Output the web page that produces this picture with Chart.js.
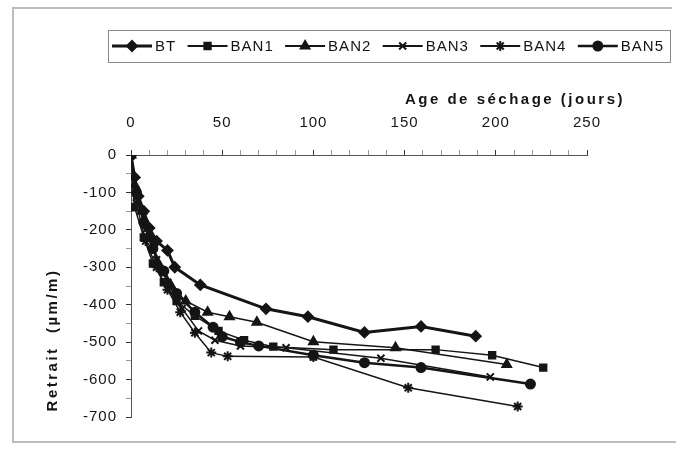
<!DOCTYPE html>
<html>
<head>
<meta charset="utf-8">
<script src="https://cdn.jsdelivr.net/npm/chart.js@4.4.1/dist/chart.umd.min.js"></script>
<style>
  html, body { margin: 0; padding: 0; background: #fff; }
  #wrap { width: 685px; height: 459px; }
</style>
</head>
<body>
<div id="wrap"><canvas id="chart" width="685" height="459"></canvas></div>
<script>
'use strict';

// ─── Data ────────────────────────────────────────────────────
const seriesNames = ['BT', 'BAN1', 'BAN2', 'BAN3', 'BAN4', 'BAN5'];

const btDays     = [0, 2, 4, 7, 10, 14, 20, 24, 38, 74, 97, 128, 159, 189];
const btValues   = [0, -60, -110, -150, -195, -230, -255, -300, -347, -411, -432, -474, -458, -484];

const ban1Days   = [0, 2, 7, 12, 18, 25, 35, 48, 62, 78, 111, 167, 198, 226];
const ban1Values = [0, -140, -220, -290, -340, -390, -430, -470, -495, -512, -520, -520, -535, -568];

const ban2Days   = [0, 2, 6, 10, 15, 22, 30, 42, 54, 69, 100, 145, 206];
const ban2Values = [0, -80, -150, -220, -290, -350, -390, -420, -432, -447, -499, -515, -560];

const ban3Days   = [0, 3, 8, 14, 20, 28, 37, 46, 60, 85, 137, 197];
const ban3Values = [0, -110, -200, -280, -340, -410, -470, -495, -510, -515, -543, -593];

const ban4Days   = [0, 3, 8, 14, 20, 27, 35, 44, 53, 100, 152, 212];
const ban4Values = [0, -130, -230, -300, -360, -420, -475, -528, -538, -540, -622, -672];

const ban5Days   = [0, 3, 7, 12, 18, 25, 35, 45, 50, 60, 70, 100, 128, 159, 219];
const ban5Values = [0, -100, -180, -250, -310, -370, -420, -460, -485, -500, -510, -535, -555, -568, -612];

const xTicks = [0, 50, 100, 150, 200, 250];
const yTicks = [0, -100, -200, -300, -400, -500, -600, -700];

const xTitle = 'Age de séchage (jours)';
const yTitle = 'Retrait  (µm/m)';

// ─── Helpers ──────────────────────────────────────────────────
const pair = (xs, ys) => xs.map((x, i) => ({ x, y: ys[i] }));

const INK = '#151515';
const FONT = '"Liberation Sans", Arial, sans-serif';

const styles = [
  { pointStyle: 'rectRot',  radius: 5,   width: 3   },
  { pointStyle: 'rect',     radius: 4.5, width: 1.5 },
  { pointStyle: 'triangle', radius: 5,   width: 1.5 },
  { pointStyle: 'crossRot', radius: 5,   width: 1.5 },
  { pointStyle: 'star',     radius: 5,   width: 1.5 },
  { pointStyle: 'circle',   radius: 4.5, width: 2.5 },
];

const allData = [
  pair(btDays, btValues),
  pair(ban1Days, ban1Values),
  pair(ban2Days, ban2Values),
  pair(ban3Days, ban3Values),
  pair(ban4Days, ban4Values),
  pair(ban5Days, ban5Values),
];

const datasets = seriesNames.map((name, i) => ({
  label: name,
  data: allData[i],
  borderColor: INK,
  backgroundColor: INK,
  borderWidth: styles[i].width,
  pointStyle: styles[i].pointStyle,
  pointRadius: styles[i].radius,
  pointBorderWidth: 2,
  pointBorderColor: INK,
  pointBackgroundColor: INK,
  tension: 0,
  fill: false,
}));

// ─── Frame, titles and a line-with-marker legend ─────────────
const decorPlugin = {
  id: 'decor',
  beforeDraw(chart) {
    const c = chart.ctx;
    c.letterSpacing = '1px';
    c.save();
    c.strokeStyle = '#bdbdbd';
    c.lineWidth = 2;
    c.beginPath();
    c.moveTo(672, 8); c.lineTo(13, 8); c.lineTo(13, 442); c.lineTo(676, 442);
    c.stroke();
    c.restore();
  },
  afterDraw(chart) {
    const c = chart.ctx;
    const { x } = chart.scales;
    c.save();
    c.fillStyle = INK;

    // x title, right side above the tick labels
    c.font = 'bold 15px ' + FONT;
    c.letterSpacing = '2.5px';
    c.textAlign = 'right';
    c.textBaseline = 'middle';
    c.fillText(xTitle, x.right + 38, 100);

    // y title, rotated
    c.translate(53, 340);
    c.rotate(-Math.PI / 2);
    c.textAlign = 'center';
    c.fillText(yTitle, 0, 0);
    c.restore();

    // legend
    c.save();
    const boxL = 108, boxT = 30, boxR = 670, boxB = 62;
    c.strokeStyle = '#8a8a8a';
    c.lineWidth = 1;
    c.strokeRect(boxL + 0.5, boxT + 0.5, boxR - boxL, boxB - boxT);
    c.font = '15px ' + FONT;
    c.letterSpacing = '1px';
    c.textBaseline = 'middle';
    c.textAlign = 'left';
    const lineLen = 40, gapText = 3;
    const textW = seriesNames.map(n => c.measureText(n).width);
    const used = seriesNames.length * (lineLen + gapText) + textW.reduce((a, b) => a + b, 0);
    const gap = (boxR - boxL - 10 - used) / (seriesNames.length - 1);
    let px = boxL + 4;
    const cy = (boxT + boxB) / 2;
    datasets.forEach((ds, i) => {
      c.strokeStyle = INK;
      c.fillStyle = INK;
      c.lineWidth = Math.max(2, ds.borderWidth);
      c.beginPath();
      c.moveTo(px, cy); c.lineTo(px + lineLen, cy);
      c.stroke();
      c.lineWidth = 2;
      Chart.helpers.drawPoint(c, {
        pointStyle: ds.pointStyle, radius: ds.pointRadius, borderWidth: 2, rotation: 0,
      }, px + lineLen / 2, cy);
      c.fillStyle = INK;
      c.fillText(ds.label, px + lineLen + gapText, cy + 1);
      px += lineLen + gapText + textW[i] + gap;
    });
    c.restore();
  },
};

new Chart(document.getElementById('chart').getContext('2d'), {
  type: 'line',
  data: { datasets },
  options: {
    responsive: false,
    animation: false,
    layout: { padding: { left: 0, right: 98, top: 0, bottom: 42 } },
    plugins: { legend: { display: false }, tooltip: { enabled: false } },
    scales: {
      x: {
        type: 'linear',
        position: 'top',
        min: xTicks[0],
        max: xTicks[xTicks.length - 1],
        afterFit: s => { s.height = 155; },
        afterBuildTicks: s => {
          const t = [];
          for (let v = xTicks[0]; v <= xTicks[xTicks.length - 1]; v += 10) t.push({ value: v });
          s.ticks = t;
        },
        ticks: {
          autoSkip: false,
          maxRotation: 0,
          padding: 18,
          color: INK,
          font: { family: FONT, size: 15 },
          callback: v => (xTicks.includes(v) ? String(v) : ''),
        },
        grid: {
          drawOnChartArea: false,
          drawTicks: true,
          tickLength: 5,
          tickColor: ctx => (ctx.tick && xTicks.includes(ctx.tick.value) ? '#333' : '#999'),
        },
        border: { display: true, color: '#555', width: 1 },
      },
      y: {
        type: 'linear',
        min: yTicks[yTicks.length - 1],
        max: yTicks[0],
        afterFit: s => { s.width = 131; },
        afterBuildTicks: s => {
          const t = [];
          for (let v = yTicks[yTicks.length - 1]; v <= yTicks[0]; v += 50) t.push({ value: v });
          s.ticks = t;
        },
        ticks: {
          autoSkip: false,
          padding: 9,
          color: INK,
          font: { family: FONT, size: 15 },
          callback: v => (yTicks.includes(v) ? String(v) : ''),
        },
        grid: {
          drawOnChartArea: false,
          drawTicks: true,
          tickLength: 5,
          tickColor: ctx => (ctx.tick && yTicks.includes(ctx.tick.value) ? '#333' : '#999'),
        },
        border: { display: true, color: '#555', width: 1 },
      },
    },
  },
  plugins: [decorPlugin],
});
</script>
</body>
</html>
